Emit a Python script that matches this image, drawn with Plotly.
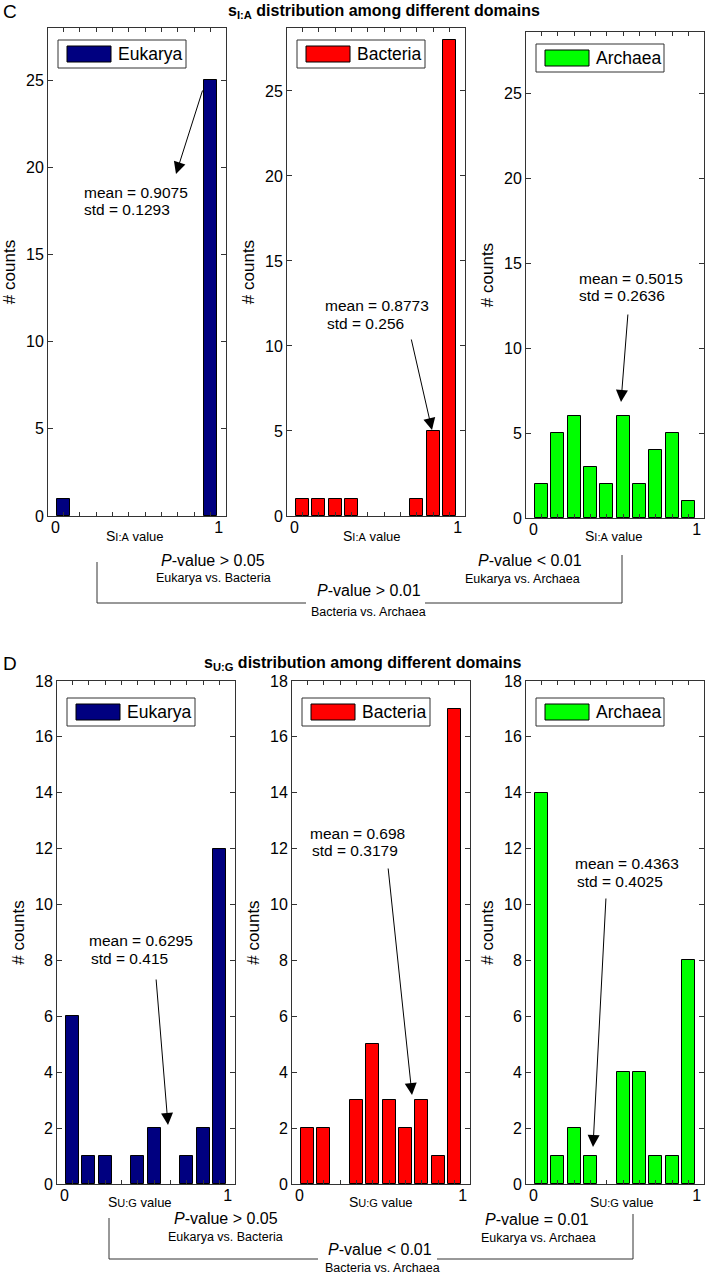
import plotly.graph_objects as go

W, H = 706, 1275
FONT = "Liberation Sans, Arial, sans-serif"

# ---------------- data ----------------
bin_centers = [0.05, 0.15, 0.25, 0.35, 0.45, 0.55, 0.65, 0.75, 0.85, 0.95]
domain_names = ["Eukarya", "Bacteria", "Archaea"]
domain_colors = ["#000080", "#FF0000", "#00FF00"]

counts_IA_eukarya = [1, 0, 0, 0, 0, 0, 0, 0, 0, 25]
counts_IA_bacteria = [1, 1, 1, 1, 0, 0, 0, 1, 5, 28]
counts_IA_archaea = [2, 5, 6, 3, 2, 6, 2, 4, 5, 1]

counts_UG_eukarya = [6, 1, 1, 0, 1, 2, 0, 1, 2, 12]
counts_UG_bacteria = [2, 2, 0, 3, 5, 3, 2, 3, 1, 17]
counts_UG_archaea = [14, 1, 2, 1, 0, 4, 4, 1, 1, 8]

mean_IA = ["0.9075", "0.8773", "0.5015"]
std_IA = ["0.1293", "0.256", "0.2636"]
mean_UG = ["0.6295", "0.698", "0.4363"]
std_UG = ["0.415", "0.3179", "0.4025"]

yticks_IA = [0, 5, 10, 15, 20, 25]
yticks_UG = [0, 2, 4, 6, 8, 10, 12, 14, 16, 18]
xtick_vals = [0, 1]
xtick_text = ["0", "1"]

pvals_IA = ["<i>P</i>-value &gt; 0.05", "<i>P</i>-value &lt; 0.01", "<i>P</i>-value &gt; 0.01"]
pvals_UG = ["<i>P</i>-value &gt; 0.05", "<i>P</i>-value = 0.01", "<i>P</i>-value &lt; 0.01"]
comparisons = ["Eukarya vs. Bacteria", "Eukarya vs. Archaea", "Bacteria vs. Archaea"]

# ---------------- layout helpers ----------------
def fx(x):
    return x / W

def fy(y):
    return 1 - y / H

# panel pixel boxes: left, top, right, bottom, ymax
panels_C = [(48, 28, 226, 516, 28.0), (287, 28, 465, 516, 28.7), (526, 32, 704, 518, 28.6)]
panels_D = [(57, 681, 235, 1184, 18.0), (292, 681, 470, 1184, 18.0), (526, 681, 704, 1184, 18.0)]
XR = [-0.045, 1.045]

fig = go.Figure()
layout = dict(
    width=W, height=H, margin=dict(l=0, r=0, t=0, b=0, pad=0, autoexpand=False),
    paper_bgcolor="white", plot_bgcolor="white",
    font=dict(family=FONT, color="black"),
    showlegend=False, bargap=0,
)
annotations = []
shapes = []

all_counts = [counts_IA_eukarya, counts_IA_bacteria, counts_IA_archaea,
              counts_UG_eukarya, counts_UG_bacteria, counts_UG_archaea]
all_panels = panels_C + panels_D

for i, (counts, box) in enumerate(zip(all_counts, all_panels)):
    k = i + 1
    sfx = "" if k == 1 else str(k)
    lab_sfx = str(k + 6)
    l, t, r, b, ymax = box
    d = i % 3
    fig.add_trace(go.Bar(
        x=bin_centers, y=[c if c > 0 else None for c in counts], width=0.08,
        name=domain_names[d],
        marker=dict(color=domain_colors[d], line=dict(color="black", width=1)),
        xaxis="x" + sfx, yaxis="y" + sfx,
    ))
    # helper trace on the label axis so it is drawn
    fig.add_trace(go.Scatter(x=[0.5], y=[0], mode="markers", marker=dict(opacity=0),
                             hoverinfo="skip", xaxis="x" + lab_sfx, yaxis="y" + sfx))
    yt = yticks_IA if i < 3 else yticks_UG
    # tick-mark axis (bin centres, mirrored to top)
    layout["xaxis" + sfx] = dict(
        domain=[fx(l), fx(r)], range=XR, anchor="y" + sfx, automargin=False,
        tickmode="array", tickvals=bin_centers, ticktext=[""] * len(bin_centers),
        ticks="inside", ticklen=4, tickcolor="#333",
        showline=True, linecolor="#333", linewidth=1,
        mirror="ticks", showgrid=False, zeroline=False,
    )
    # label axis (0 and 1)
    layout["xaxis" + lab_sfx] = dict(
        domain=[fx(l), fx(r)], range=XR, anchor="y" + sfx, overlaying="x" + sfx,
        side="bottom", automargin=False, tickmode="array", tickvals=xtick_vals,
        ticktext=xtick_text, ticks="", tickfont=dict(size=16, family=FONT), showline=False,
        showgrid=False, zeroline=False,
    )
    layout["yaxis" + sfx] = dict(
        domain=[fy(b), fy(t)], range=[0, ymax], anchor="x" + sfx, automargin=False,
        tickmode="array", tickvals=yt, ticks="inside", ticklen=5, tickcolor="#333",
        tickfont=dict(size=16, family=FONT), showline=True, linecolor="#333", linewidth=1,
        mirror="ticks", showgrid=False, zeroline=False,
        title=dict(text="# counts", font=dict(size=17, family=FONT), standoff=6),
    )

    # legend box (drawn)
    lb_top = t + 12 if i < 3 else t + 17
    shapes.append(dict(type="rect", xref="paper", yref="paper",
                       x0=fx(l + 10), x1=fx(l + 138), y0=fy(lb_top), y1=fy(lb_top + 28),
                       line=dict(color="#333", width=1), fillcolor="white"))
    shapes.append(dict(type="rect", xref="paper", yref="paper",
                       x0=fx(l + 19), x1=fx(l + 63), y0=fy(lb_top + 6), y1=fy(lb_top + 22),
                       line=dict(color="black", width=1), fillcolor=domain_colors[d]))
    annotations.append(dict(text=domain_names[d], xref="paper", yref="paper",
                            x=fx(l + 68), y=fy(lb_top + 14), xanchor="left", yanchor="middle",
                            showarrow=False, font=dict(size=17.5, family=FONT)))

# x-axis labels
xlab_IA = "<span style='font-size:14px'>S</span><span style='font-size:11px'>I:A</span> value"
xlab_UG = "<span style='font-size:14px'>S</span><span style='font-size:11px'>U:G</span> value"
for cx in [135, 372, 614]:
    annotations.append(dict(text=xlab_IA, xref="paper", yref="paper", x=fx(cx), y=fy(536),
                            xanchor="center", yanchor="middle", showarrow=False,
                            font=dict(size=13, family=FONT)))
for cx in [140, 381, 622]:
    annotations.append(dict(text=xlab_UG, xref="paper", yref="paper", x=fx(cx), y=fy(1202),
                            xanchor="center", yanchor="middle", showarrow=False,
                            font=dict(size=13, family=FONT)))

# mean/std text and arrows: (mean x, mean y, std x, std y, tail x, tail y, head x, head y)
stat_pos = [
    (82, 192, 82, 209, 203, 89, 176, 174),
    (323, 305, 325, 323, 411, 338, 432, 430),
    (577, 278, 577, 295, 628, 313, 621, 402),
    (87, 940, 89, 958, 156, 978, 168, 1125),
    (308, 833, 310, 850, 388, 867, 412, 1095),
    (573, 863, 575, 881, 606, 897, 593, 1147),
]
means = mean_IA + mean_UG
stds = std_IA + std_UG
for (mx, my, sx, sy, tx, ty, hx, hy), m, s in zip(stat_pos, means, stds):
    annotations.append(dict(text="mean = " + m, xref="paper", yref="paper", x=fx(mx), y=fy(my),
                            xanchor="left", yanchor="middle", showarrow=False,
                            font=dict(size=15.5, family=FONT)))
    annotations.append(dict(text="std = " + s, xref="paper", yref="paper", x=fx(sx), y=fy(sy),
                            xanchor="left", yanchor="middle", showarrow=False,
                            font=dict(size=15.5, family=FONT)))
    annotations.append(dict(text="", xref="paper", yref="paper", x=fx(hx), y=fy(hy),
                            ax=tx - hx, ay=ty - hy, showarrow=True, arrowhead=2,
                            arrowsize=2.4, arrowwidth=1, arrowcolor="black", standoff=0))

# titles and panel letters
annotations.append(dict(text="<b>s<sub>I:A</sub> distribution among different domains</b>",
                        xref="paper", yref="paper", x=fx(384), y=fy(11), xanchor="center",
                        yanchor="middle", showarrow=False, font=dict(size=16, family=FONT)))
annotations.append(dict(text="<b>s<sub>U:G</sub> distribution among different domains</b>",
                        xref="paper", yref="paper", x=fx(363), y=fy(663), xanchor="center",
                        yanchor="middle", showarrow=False, font=dict(size=16, family=FONT)))
annotations.append(dict(text="C", xref="paper", yref="paper", x=fx(1), y=fy(11), xanchor="left",
                        yanchor="middle", showarrow=False, font=dict(size=19, family=FONT)))
annotations.append(dict(text="D", xref="paper", yref="paper", x=fx(1), y=fy(663), xanchor="left",
                        yanchor="middle", showarrow=False, font=dict(size=19, family=FONT)))

# p-value annotations: (p x, p y, comp x, comp y)
pos_C = [(213, 560, 213, 578), (530, 560, 522, 579), (369, 590, 369, 612)]
pos_D = [(226, 1218, 225, 1237), (537, 1219, 538, 1238), (380, 1249, 382, 1268)]
for pv_list, pos in [(pvals_IA, pos_C), (pvals_UG, pos_D)]:
    for pv, comp, (px_, py_, cx_, cy_) in zip(pv_list, comparisons, pos):
        annotations.append(dict(text=pv, xref="paper", yref="paper", x=fx(px_), y=fy(py_),
                                xanchor="center", yanchor="middle", showarrow=False,
                                font=dict(size=16, family=FONT)))
        annotations.append(dict(text=comp, xref="paper", yref="paper", x=fx(cx_), y=fy(cy_),
                                xanchor="center", yanchor="middle", showarrow=False,
                                font=dict(size=12.5, family=FONT)))

# brackets: (left x, left top y, right x, right top y, line y, gap start, gap end)
brackets = [(97, 562, 622, 555, 603, 306, 425), (109, 1218, 633, 1214, 1259, 318, 437)]
for lx, lty, rx, rty, ly, g0, g1 in brackets:
    for x0, y0, x1, y1 in [(lx, lty, lx, ly), (rx, rty, rx, ly), (lx, ly, g0, ly), (g1, ly, rx, ly)]:
        shapes.append(dict(type="line", xref="paper", yref="paper", x0=fx(x0), y0=fy(y0),
                           x1=fx(x1), y1=fy(y1), line=dict(color="#333", width=1)))

layout["annotations"] = annotations
layout["shapes"] = shapes
fig.update_layout(**layout)
fig.write_html("out.html", config={"displayModeBar": False},
               post_script="document.body.style.margin='0px';document.body.style.overflow='hidden';")
